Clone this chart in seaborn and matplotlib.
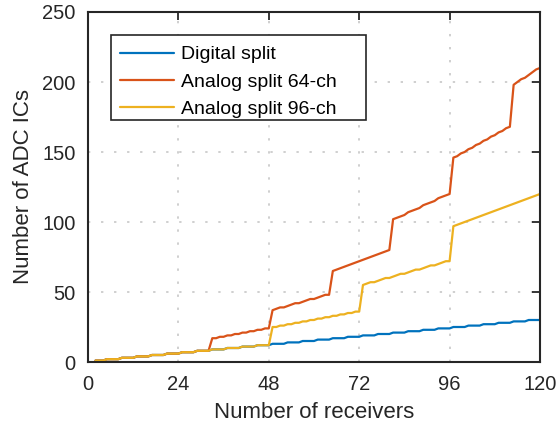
import numpy as np
import pandas as pd
import matplotlib
matplotlib.use("Agg")
import matplotlib.pyplot as plt
from matplotlib.patches import Rectangle
import seaborn as sns

# Number of receivers (x axis)
receivers = np.arange(2, 121)

# ADC IC count per architecture
digital_split = [
    1, 1, 1,
    2, 2, 2, 2, 3, 3, 3, 3, 4, 4, 4, 4, 5, 5, 5, 5, 6, 6, 6, 6,
    7, 7, 7, 7, 8, 8, 8, 8, 9, 9, 9, 9, 10, 10, 10, 10, 11, 11, 11, 11,
    12, 12, 12, 12, 13, 13, 13, 13, 14, 14, 14, 14, 15, 15, 15, 15,
    16, 16, 16, 16, 17, 17, 17, 17, 18, 18, 18, 18, 19, 19, 19, 19,
    20, 20, 20, 20, 21, 21, 21, 21, 22, 22, 22, 22, 23, 23, 23, 23,
    24, 24, 24, 24, 25, 25, 25, 25, 26, 26, 26, 26, 27, 27, 27, 27,
    28, 28, 28, 28, 29, 29, 29, 29, 30, 30, 30, 30,
]

analog_split_64 = [
    1, 1, 1,
    2, 2, 2, 2, 3, 3, 3, 3, 4, 4, 4, 4, 5, 5, 5, 5, 6, 6, 6, 6,
    7, 7, 7, 7, 8, 8, 8, 8,
    17, 17, 18, 18, 19, 19, 20, 20, 21, 21, 22, 22, 23, 23, 24, 24,
    37, 38, 39, 39, 40, 41, 42, 42, 43, 44, 45, 45, 46, 47, 48, 48,
    65, 66, 67, 68, 69, 70, 71, 72, 73, 74, 75, 76, 77, 78, 79, 80,
    102, 103, 104, 105, 107, 108, 109, 110, 112, 113, 114, 115, 117, 118, 119, 120,
    146, 147, 149, 150, 152, 153, 155, 156, 158, 159, 161, 162, 164, 165, 167, 168,
    198, 200, 202, 203, 205, 207, 209, 210,
]

analog_split_96 = [
    1, 1, 1,
    2, 2, 2, 2, 3, 3, 3, 3, 4, 4, 4, 4, 5, 5, 5, 5, 6, 6, 6, 6,
    7, 7, 7, 7, 8, 8, 8, 8, 9, 9, 9, 9, 10, 10, 10, 10, 11, 11, 11, 11,
    12, 12, 12, 12,
    25, 25, 26, 26, 27, 27, 28, 28, 29, 29, 30, 30,
    31, 31, 32, 32, 33, 33, 34, 34, 35, 35, 36, 36,
    55, 56, 57, 57, 58, 59, 60, 60, 61, 62, 63, 63,
    64, 65, 66, 66, 67, 68, 69, 69, 70, 71, 72, 72,
    97, 98, 99, 100, 101, 102, 103, 104, 105, 106, 107, 108,
    109, 110, 111, 112, 113, 114, 115, 116, 117, 118, 119, 120,
]

series_names = ["Digital split", "Analog split 64-ch", "Analog split 96-ch"]
series_colors = ["#0072BD", "#D95319", "#EDB120"]
x_ticks = [0, 24, 48, 72, 96, 120]
y_ticks = [0, 50, 100, 150, 200, 250]

df = pd.concat([
    pd.DataFrame({"receivers": receivers, "ics": vals, "series": name})
    for name, vals in zip(series_names, [digital_split, analog_split_64, analog_split_96])
], ignore_index=True)

sns.set_style("white")
plt.rcParams["font.family"] = ["Liberation Sans", "DejaVu Sans"]

ink = "#262626"
fig = plt.figure(figsize=(5.58, 4.30), dpi=100)
ax = fig.add_axes([88 / 558, 1 - 362 / 430, 452 / 558, 350 / 430])

sns.lineplot(data=df, x="receivers", y="ics", hue="series", hue_order=series_names,
             palette=series_colors, estimator=None, linewidth=1.6, ax=ax)

ax.set_xlim(0, 120)
ax.set_ylim(0, 250)
ax.set_xticks(x_ticks)
ax.set_yticks(y_ticks)

ax.grid(True, color="#cfcfcf", linestyle=(0, (1.2, 5.5)), linewidth=1.4)
ax.set_axisbelow(True)

for side in ["left", "right", "top", "bottom"]:
    ax.spines[side].set_visible(True)
    ax.spines[side].set_color(ink)
    ax.spines[side].set_linewidth(1.5)

ax.tick_params(direction="in", length=6, width=1.3, color=ink,
               top=True, right=True, labelsize=14.5, labelcolor=ink)
ax.tick_params(axis="y", pad=9)
ax.tick_params(axis="x", pad=9)

ax.set_xlabel("Number of receivers", fontsize=16, color=ink, labelpad=6)
ax.set_ylabel("Number of ADC ICs", fontsize=16, color=ink, labelpad=6)

# Legend box with generous right margin, drawn as its own patch
box = Rectangle((23 / 452, 1 - 108 / 350), 255 / 452, 85 / 350, transform=ax.transAxes,
                facecolor="white", edgecolor=ink, linewidth=1.2, zorder=4.5)
ax.add_patch(box)

handles, labels = ax.get_legend_handles_labels()
leg = ax.legend(handles, labels, loc="upper left", bbox_to_anchor=(23 / 452, 1 - 25 / 350),
                borderaxespad=0, fontsize=14, frameon=False,
                handlelength=2.8, handletextpad=0.35,
                labelspacing=0.5, borderpad=0.45)
leg.set_zorder(5)
for t in leg.get_texts():
    t.set_color("black")

fig.savefig("out.png", dpi=100)
